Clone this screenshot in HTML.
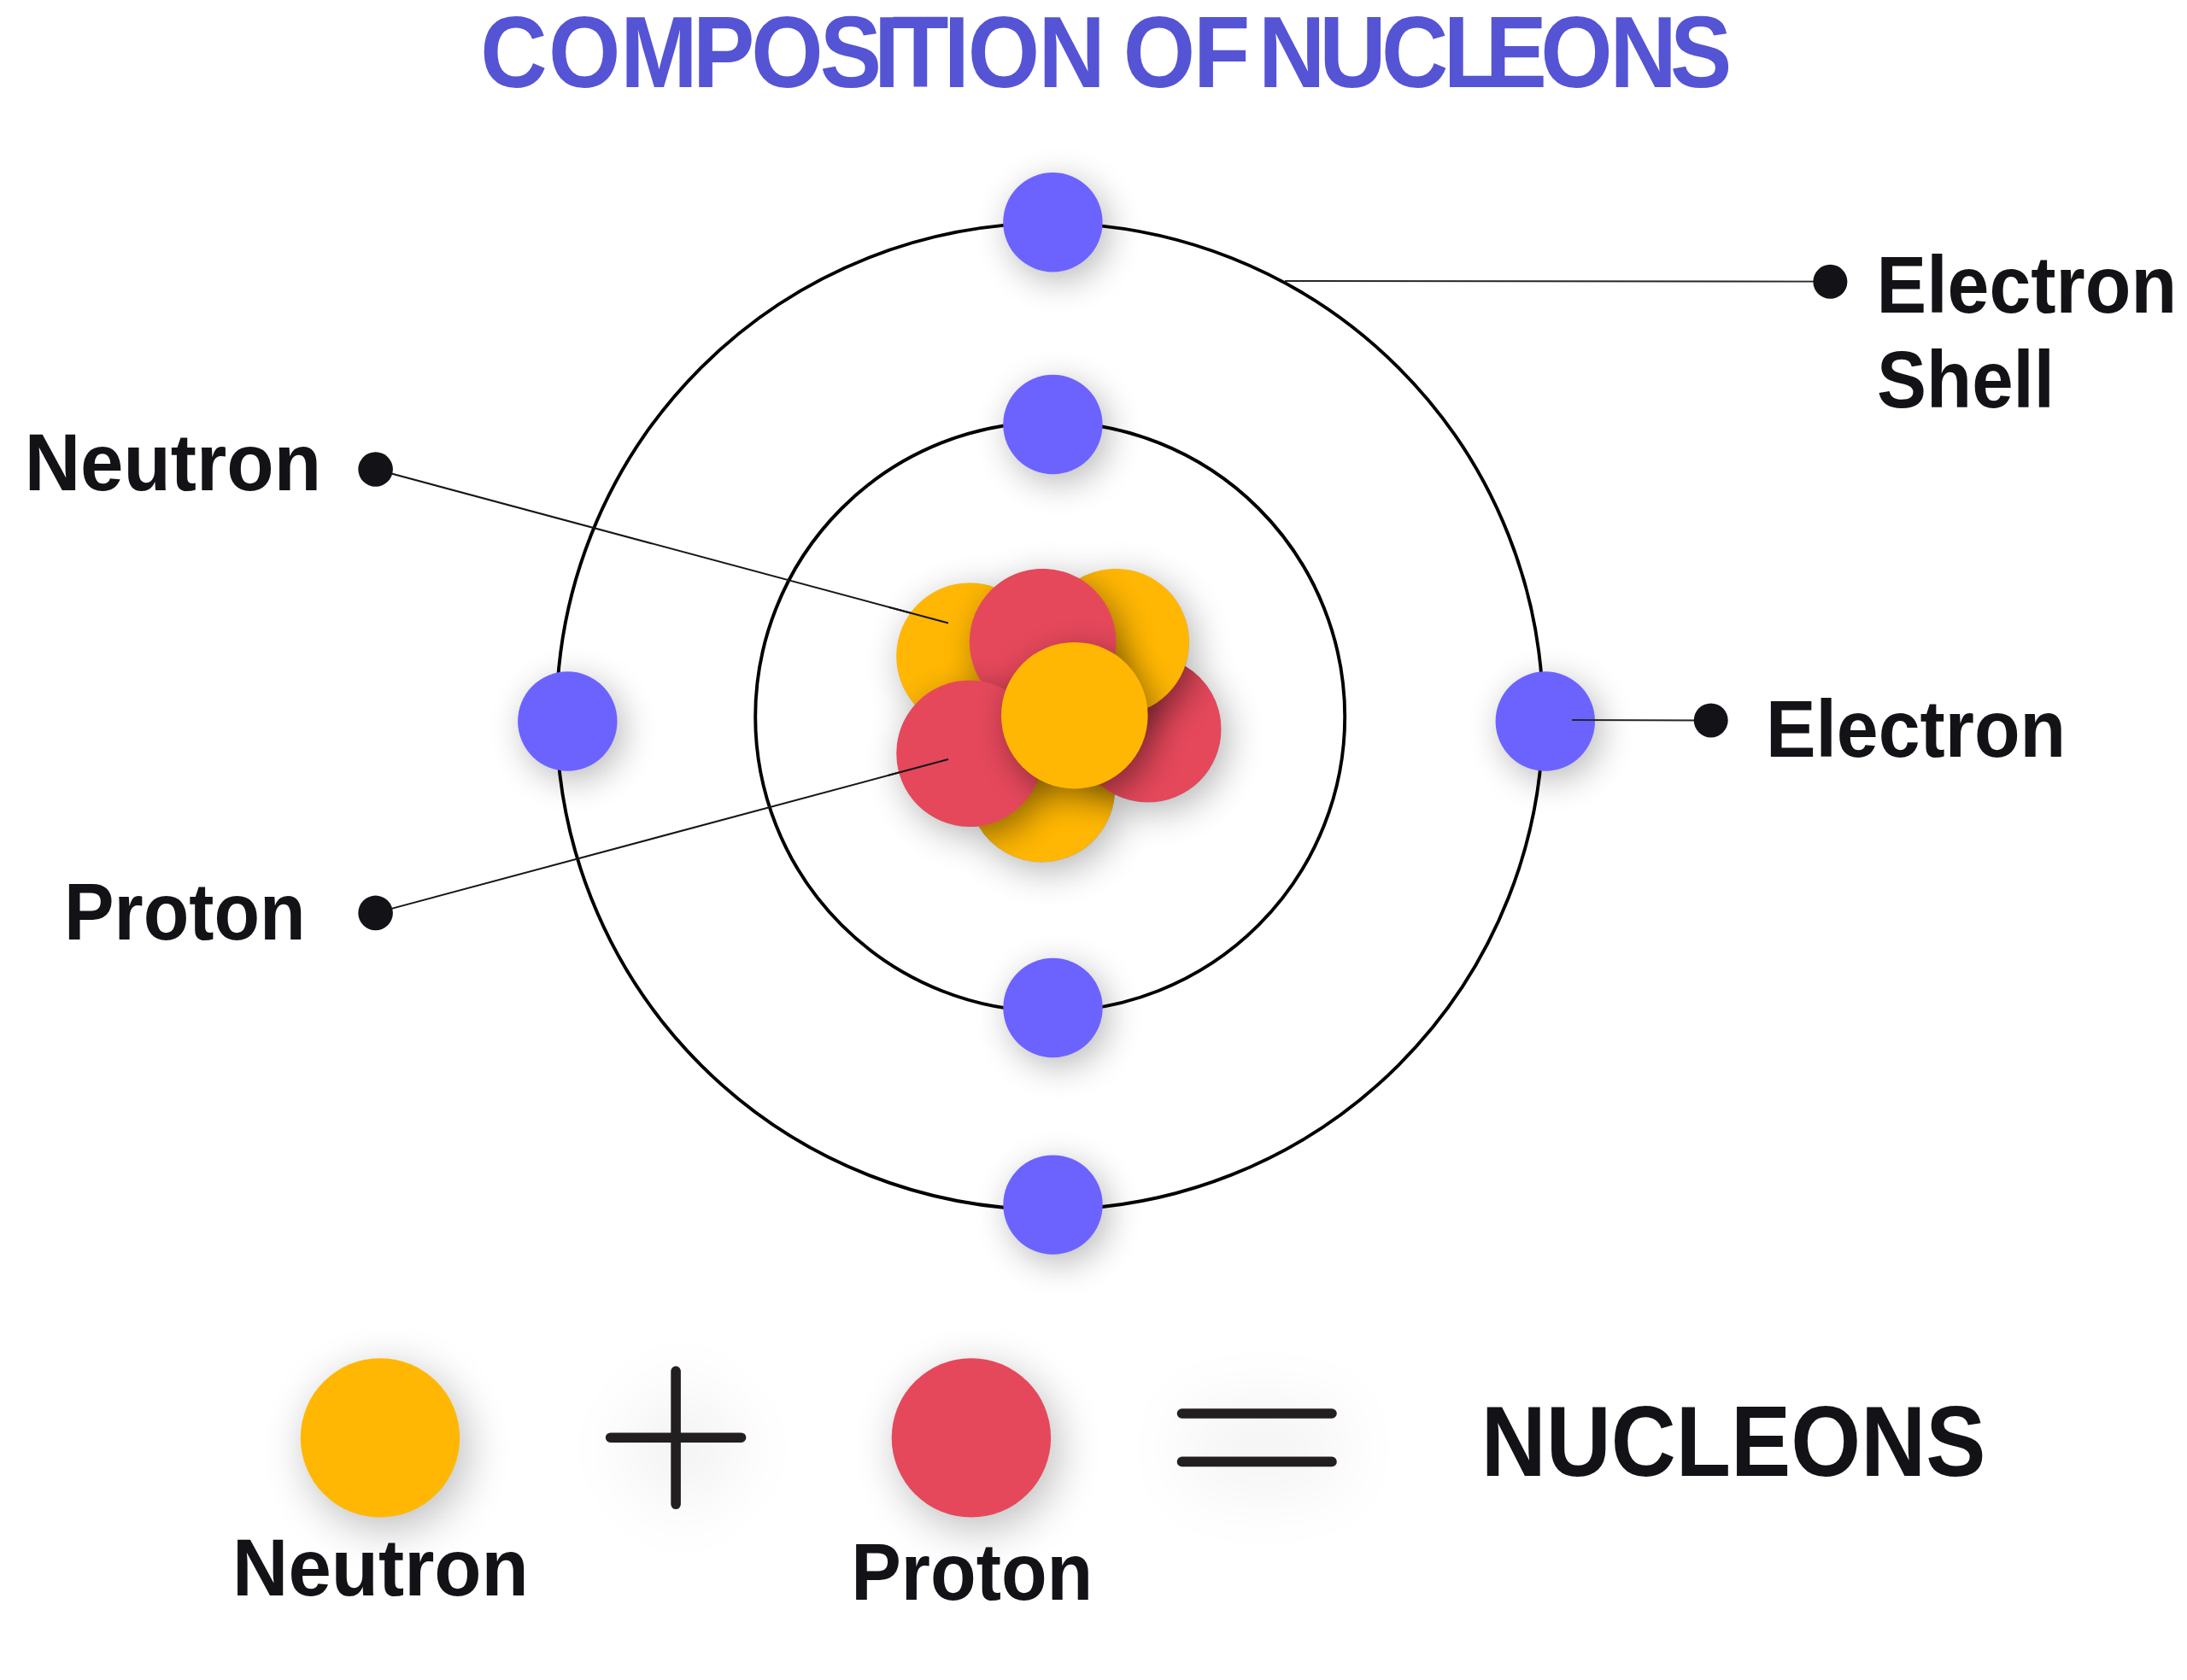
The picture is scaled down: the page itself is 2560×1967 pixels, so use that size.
<!DOCTYPE html>
<html lang="en">
<head>
<meta charset="utf-8">
<title>Composition of Nucleons</title>
<style>
  html, body { margin: 0; padding: 0; background: #ffffff; }
  body { width: 2560px; height: 1967px; overflow: hidden; }
  svg { display: block; }
  text { font-family: "Liberation Sans", sans-serif; font-weight: bold; }
  .lbl { fill: #121217; font-size: 95px; }
  .ttl { fill: #5454d4; font-size: 118px; }
  .big { fill: #121217; font-size: 117px; }
</style>
</head>
<body>
<svg width="2560" height="1967" viewBox="0 0 2560 1967">
  <defs>
    <filter id="sh" x="-60%" y="-60%" width="240%" height="240%" color-interpolation-filters="sRGB">
      <feGaussianBlur in="SourceAlpha" stdDeviation="20" result="b"/>
      <feOffset in="b" dx="7" dy="10" result="o"/>
      <feComponentTransfer in="o" result="s"><feFuncA type="linear" slope="0.28"/></feComponentTransfer>
      <feMerge><feMergeNode in="s"/><feMergeNode in="SourceGraphic"/></feMerge>
    </filter>
    <filter id="shn" x="-60%" y="-60%" width="240%" height="240%" color-interpolation-filters="sRGB">
      <feGaussianBlur in="SourceAlpha" stdDeviation="19" result="b"/>
      <feOffset in="b" dx="9" dy="12" result="o"/>
      <feComponentTransfer in="o" result="s"><feFuncA type="linear" slope="0.42"/></feComponentTransfer>
      <feMerge><feMergeNode in="s"/><feMergeNode in="SourceGraphic"/></feMerge>
    </filter>
    <clipPath id="nuc">
      <circle cx="1219.3" cy="923.6" r="85.9"/>
      <circle cx="1343.7" cy="853.7" r="85.9"/>
      <circle cx="1135" cy="768.1" r="85.9"/>
      <circle cx="1306.2" cy="751.6" r="85.9"/>
      <circle cx="1220.6" cy="751.6" r="85.9"/>
      <circle cx="1135" cy="882.2" r="85.9"/>
      <circle cx="1257.8" cy="837.7" r="85.9"/>
    </clipPath>
    <filter id="halo" x="-40%" y="-40%" width="180%" height="180%" color-interpolation-filters="sRGB">
      <feGaussianBlur in="SourceAlpha" stdDeviation="22" result="b"/>
      <feOffset in="b" dx="7" dy="10" result="o"/>
      <feComponentTransfer in="o"><feFuncA type="linear" slope="0.30"/></feComponentTransfer>
    </filter>
    <filter id="shl" x="-60%" y="-60%" width="240%" height="240%" color-interpolation-filters="sRGB">
      <feGaussianBlur in="SourceAlpha" stdDeviation="26" result="b"/>
      <feOffset in="b" dx="8" dy="13" result="o"/>
      <feComponentTransfer in="o" result="s"><feFuncA type="linear" slope="0.27"/></feComponentTransfer>
      <feMerge><feMergeNode in="s"/><feMergeNode in="SourceGraphic"/></feMerge>
    </filter>
    <filter id="shs" x="500" y="1440" width="580" height="500" filterUnits="userSpaceOnUse" color-interpolation-filters="sRGB">
      <feGaussianBlur in="SourceAlpha" stdDeviation="44" result="b"/>
      <feOffset in="b" dx="8" dy="12" result="o"/>
      <feComponentTransfer in="o" result="s"><feFuncA type="linear" slope="0.22"/></feComponentTransfer>
      <feMerge><feMergeNode in="s"/><feMergeNode in="SourceGraphic"/></feMerge>
    </filter>
    <filter id="shs2" x="1160" y="1440" width="640" height="500" filterUnits="userSpaceOnUse" color-interpolation-filters="sRGB">
      <feGaussianBlur in="SourceAlpha" stdDeviation="44" result="b"/>
      <feOffset in="b" dx="8" dy="12" result="o"/>
      <feComponentTransfer in="o" result="s"><feFuncA type="linear" slope="0.22"/></feComponentTransfer>
      <feMerge><feMergeNode in="s"/><feMergeNode in="SourceGraphic"/></feMerge>
    </filter>
  </defs>

  <rect x="0" y="0" width="2560" height="1967" fill="#ffffff"/>

  <!-- Title -->
  <text class="ttl" transform="scale(0.92,1)" y="102" x="611.2 697.8 789.3 881.6 955.6 1043.2 1111.9 1135.0 1200.7 1231.3 1321.1 1375.2 1429.2 1518.5 1562.2 1601.1 1678.6 1757.7 1836.8 1889.7 1960.0 2048.3 2124.9">COMPOSITION OF NUCLEONS</text>

  <!-- Electron shells -->
  <circle cx="1228.8" cy="838.8" r="577.4" fill="none" stroke="#000000" stroke-width="3.9"/>
  <circle cx="1229.2" cy="839.2" r="345" fill="none" stroke="#000000" stroke-width="3.9"/>

  <!-- Label leader lines -->
  <line x1="1504" y1="329" x2="2142" y2="329.6" stroke="#2a2628" stroke-width="1.8"/>
  <line x1="439.6" y1="549.5" x2="1110" y2="729.5" stroke="#17151a" stroke-width="2"/>
  <line x1="439.6" y1="1068.9" x2="1110" y2="889" stroke="#17151a" stroke-width="2"/>

  <!-- Electrons -->
  <g fill="#6c63ff">
    <circle cx="1232.4" cy="260.2" r="58.2" filter="url(#sh)"/>
    <circle cx="1232.4" cy="497" r="58.2" filter="url(#sh)"/>
    <circle cx="1232.5" cy="1180" r="58.2" filter="url(#sh)"/>
    <circle cx="1232.5" cy="1410.6" r="58.2" filter="url(#sh)"/>
    <circle cx="664.3" cy="844.5" r="58.2" filter="url(#sh)"/>
    <circle cx="1808.8" cy="844.5" r="58.2" filter="url(#sh)"/>
  </g>

  <!-- Nucleus -->
  <g filter="url(#halo)" fill="#ffb703">
    <circle cx="1219.3" cy="923.6" r="85.8"/>
    <circle cx="1343.7" cy="853.7" r="85.8"/>
    <circle cx="1135" cy="768.1" r="85.8"/>
    <circle cx="1306.2" cy="751.6" r="85.8"/>
    <circle cx="1220.6" cy="751.6" r="85.8"/>
    <circle cx="1135" cy="882.2" r="85.8"/>
    <circle cx="1257.8" cy="837.7" r="85.8"/>
  </g>
  <g clip-path="url(#nuc)">
    <circle cx="1219.3" cy="923.6" r="85.8" fill="#ffb703" filter="url(#shn)"/>
    <circle cx="1343.7" cy="853.7" r="85.8" fill="#e5485b" filter="url(#shn)"/>
    <circle cx="1135" cy="768.1" r="85.8" fill="#ffb703" filter="url(#shn)"/>
    <circle cx="1306.2" cy="751.6" r="85.8" fill="#ffb703" filter="url(#shn)"/>
    <circle cx="1220.6" cy="751.6" r="85.8" fill="#e5485b" filter="url(#shn)"/>
    <circle cx="1135" cy="882.2" r="85.8" fill="#e5485b" filter="url(#shn)"/>
    <circle cx="1257.8" cy="837.7" r="85.8" fill="#ffb703" filter="url(#shn)"/>
  </g>
  <!-- leader line ends drawn over nucleus -->
  <line x1="1040" y1="710.7" x2="1110" y2="729.5" stroke="#17151a" stroke-width="2"/>
  <line x1="1040" y1="907.8" x2="1110" y2="889" stroke="#17151a" stroke-width="2"/>
  <line x1="1840" y1="843" x2="2002" y2="843.4" stroke="#2a2628" stroke-width="2"/>

  <!-- Label dots -->
  <g fill="#121217">
    <circle cx="439.6" cy="549.5" r="20.3"/>
    <circle cx="439.6" cy="1068.9" r="20.3"/>
    <circle cx="2142.4" cy="329.8" r="20"/>
    <circle cx="2002.7" cy="843.4" r="20"/>
  </g>

  <!-- Labels -->
  <text class="lbl" x="28.7" y="574" textLength="347.3" lengthAdjust="spacingAndGlyphs">Neutron</text>
  <text class="lbl" x="75" y="1100.2" textLength="282.7" lengthAdjust="spacingAndGlyphs">Proton</text>
  <text class="lbl" x="2196.6" y="366" textLength="351.5" lengthAdjust="spacingAndGlyphs">Electron</text>
  <text class="lbl" x="2197.1" y="476.5" textLength="207.8" lengthAdjust="spacingAndGlyphs">Shell</text>
  <text class="lbl" x="2066.9" y="886" textLength="351.3" lengthAdjust="spacingAndGlyphs">Electron</text>

  <!-- Legend -->
  <circle cx="445" cy="1683.4" r="93.2" fill="#ffb703" filter="url(#shl)"/>
  <circle cx="1136.9" cy="1683.4" r="93.2" fill="#e5485b" filter="url(#shl)"/>
  <g stroke="#231f20" stroke-width="11.6" stroke-linecap="round" fill="none">
    <path d="M714.6 1683.2H867.6M791.1 1605.3V1761.3" filter="url(#shs)"/>
    <path d="M1383.5 1655H1559M1383.5 1711.4H1559" filter="url(#shs2)"/>
  </g>
  <text class="lbl" x="272.1" y="1868.1" textLength="346.8" lengthAdjust="spacingAndGlyphs">Neutron</text>
  <text class="lbl" x="996.3" y="1873.2" textLength="282.9" lengthAdjust="spacingAndGlyphs">Proton</text>
  <text class="big" x="1733.7" y="1728.3" textLength="590.7" lengthAdjust="spacingAndGlyphs">NUCLEONS</text>
</svg>
</body>
</html>
